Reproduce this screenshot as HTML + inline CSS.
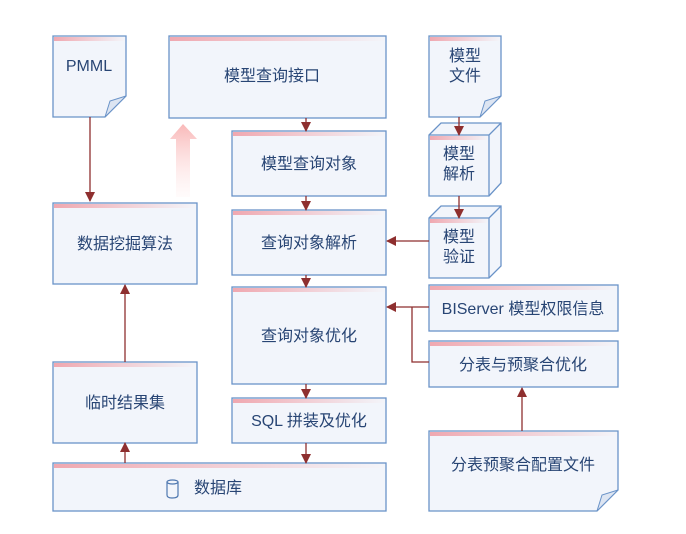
<!DOCTYPE html>
<html><head><meta charset="utf-8"><style>
html,body{margin:0;padding:0;background:#fff;width:686px;height:534px;overflow:hidden}
svg text{font-family:"Liberation Sans","Noto Sans CJK SC",sans-serif;fill:#284574;font-size:16px}
</style></head><body>
<svg width="686" height="534" viewBox="0 0 686 534" xmlns="http://www.w3.org/2000/svg">
<defs>
<linearGradient id="hd" x1="0" x2="1" y1="0" y2="0">
<stop offset="0" stop-color="#f0a8b0"/><stop offset="1" stop-color="#f3f5fa"/></linearGradient>
<linearGradient id="big" x1="0" x2="0" y1="0" y2="1">
<stop offset="0" stop-color="#f9b8b8"/><stop offset="1" stop-color="#fff2f2" stop-opacity="0.3"/></linearGradient>
<marker id="ar" markerWidth="10" markerHeight="10" refX="9" refY="5" orient="auto" markerUnits="userSpaceOnUse">
<path d="M0,0 L10,5 L0,10 z" fill="#8e2f2f"/></marker>
</defs>
<path d="M176,197 L176,139 L170,139 L183,124 L197,139 L190,139 L190,197 z" fill="url(#big)"/>
<g stroke="#6a93c8" stroke-width="1.3" fill="#f2f5fb">
<path d="M53,36 H126 V96 L105,117 H53 z"/>
<rect x="169" y="36" width="217" height="82"/>
<rect x="232" y="131" width="154" height="65"/>
<rect x="232" y="210" width="154" height="65"/>
<rect x="232" y="287" width="154" height="97"/>
<rect x="232" y="398" width="154" height="45"/>
<rect x="53" y="463" width="333" height="48"/>
<rect x="53" y="203" width="144" height="81"/>
<rect x="53" y="362" width="144" height="81"/>
<path d="M429,36 H501 V96 L480,117 H429 z"/>
<rect x="429" y="285" width="189" height="46"/>
<rect x="429" y="341" width="189" height="46"/>
<path d="M429,431 H618 V490 L597,511 H429 z"/>
<path d="M429,135 L441,123 H501 V183 L489,196 H429 z"/>
<path d="M429,135 H489 V196 M489,135 L501,123"/>
<path d="M429,218 L441,206 H501 V266 L489,278 H429 z"/>
<path d="M429,218 H489 V278 M489,218 L501,206"/>
</g>
<g stroke="#6a93c8" stroke-width="1" fill="#dde5f2">
<path d="M105,117 L110,101 L126,96 z"/>
<path d="M480,117 L485,101 L501,96 z"/>
<path d="M597,511 L602,495 L618,490 z"/>
</g>
<g fill="url(#hd)">
<rect x="54" y="37" width="71" height="4"/>
<rect x="170" y="37" width="215" height="4"/>
<rect x="233" y="132" width="152" height="4"/>
<rect x="233" y="211" width="152" height="4"/>
<rect x="233" y="288" width="152" height="4"/>
<rect x="233" y="399" width="152" height="4"/>
<rect x="54" y="464" width="331" height="4"/>
<rect x="54" y="204" width="142" height="4"/>
<rect x="54" y="363" width="142" height="4"/>
<rect x="430" y="37" width="70" height="4"/>
<rect x="430" y="286" width="187" height="4"/>
<rect x="430" y="342" width="187" height="4"/>
<rect x="430" y="432" width="187" height="4"/>
<rect x="430" y="136" width="58" height="4"/>
<rect x="430" y="219" width="58" height="4"/>
</g>
<g stroke="#8e2f2f" stroke-width="1.3" fill="none">
<line x1="90" y1="117" x2="90" y2="201" marker-end="url(#ar)"/>
<line x1="306" y1="118" x2="306" y2="131" marker-end="url(#ar)"/>
<line x1="306" y1="196" x2="306" y2="210" marker-end="url(#ar)"/>
<line x1="306" y1="275" x2="306" y2="287" marker-end="url(#ar)"/>
<line x1="306" y1="384" x2="306" y2="398" marker-end="url(#ar)"/>
<line x1="306" y1="443" x2="306" y2="463" marker-end="url(#ar)"/>
<line x1="125" y1="362" x2="125" y2="285" marker-end="url(#ar)"/>
<line x1="125" y1="463" x2="125" y2="443" marker-end="url(#ar)"/>
<line x1="522" y1="431" x2="522" y2="388" marker-end="url(#ar)"/>
<line x1="459" y1="117" x2="459" y2="135" marker-end="url(#ar)"/>
<line x1="459" y1="196" x2="459" y2="218" marker-end="url(#ar)"/>
<line x1="429" y1="241" x2="387" y2="241" marker-end="url(#ar)"/>
<line x1="429" y1="307" x2="387" y2="307" marker-end="url(#ar)"/>
<polyline points="412,307 412,362 429,362"/>
</g>
<g text-anchor="middle">
<text x="89" y="71" font-size="15">PMML</text>
<text x="272" y="81">模型查询接口</text>
<text x="309" y="169">模型查询对象</text>
<text x="309" y="248">查询对象解析</text>
<text x="309" y="341">查询对象优化</text>
<text x="309" y="426">SQL 拼装及优化</text>
<text x="125" y="249">数据挖掘算法</text>
<text x="125" y="408">临时结果集</text>
<text x="465" y="61">模型</text>
<text x="465" y="81">文件</text>
<text x="459" y="159">模型</text>
<text x="459" y="179">解析</text>
<text x="459" y="242">模型</text>
<text x="459" y="262">验证</text>
<text x="523" y="314">BIServer 模型权限信息</text>
<text x="523" y="370">分表与预聚合优化</text>
<text x="523" y="470">分表预聚合配置文件</text>
<text x="218" y="493">数据库</text>
</g>
<g stroke="#4f78b0" stroke-width="1.2" fill="none">
<path d="M167,482 V495 Q167,498 172,498 Q178,498 178,495 V482"/>
<ellipse cx="172.5" cy="482" rx="5.5" ry="2"/>
</g>
</svg>
</body></html>
